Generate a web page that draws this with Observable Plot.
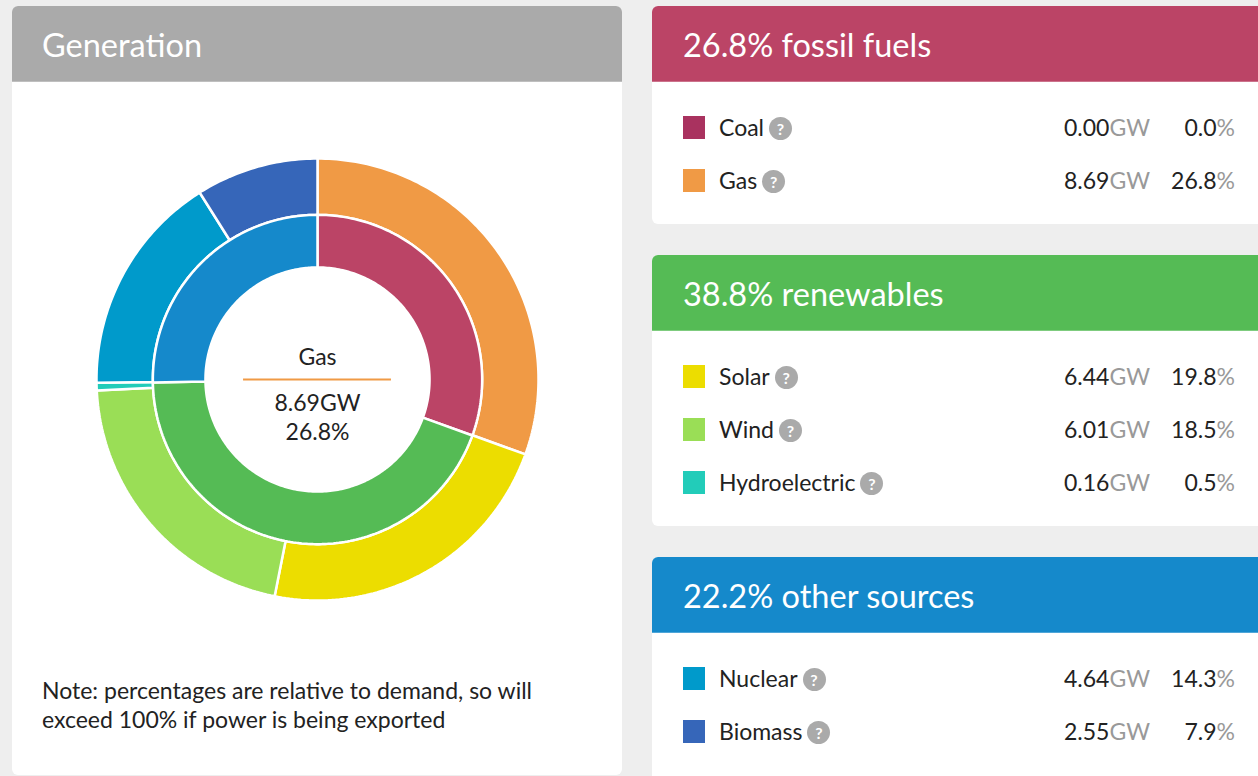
<!DOCTYPE html>
<html>
<head>
<meta charset="utf-8">
<script src="https://cdn.jsdelivr.net/npm/d3@7"></script>
<script src="https://cdn.jsdelivr.net/npm/@observablehq/plot@0.6"></script>
<style>
  html, body { margin:0; padding:0; }
  body { background:#eeeeee; width:1258px; height:776px; overflow:hidden; position:relative; font-family: Lato, "Open Sans", sans-serif; color:#222; }
  .panel { position:absolute; background:#fff; border-radius:6px; overflow:hidden; }
  .head { height:76px; line-height:78px; color:#fff; font-size:32.5px; padding-left:31px; box-sizing:border-box; border-bottom:1px solid rgba(255,255,255,0.25); }
  #gen { left:12px; top:6px; width:610px; height:769px; }
  #gen .head { background:#aaaaaa; padding-left:30px; }
  #chart { position:absolute; left:82px; top:150px; }
  #note { position:absolute; left:30px; top:670px; font-size:23px; line-height:29px; color:#222; width:560px; }
  .group { left:652px; width:620px; }
  .rows { padding-top:19px; }
  .row { position:relative; height:53px; font-size:23px; }
  .sw { position:absolute; left:31px; top:15px; width:22px; height:23px; }
  .lab { position:absolute; left:67px; top:0; line-height:53px; white-space:nowrap; }
  .q { display:inline-block; width:23px; height:23px; border-radius:50%; background:#aaaaaa; color:#fff; font-size:16px; font-weight:bold; line-height:23px; text-align:center; vertical-align:middle; margin-left:5px; position:relative; top:-2px; }
  .gw { position:absolute; right:122px; top:0; line-height:53px; }
  .pc { position:absolute; right:37px; top:0; line-height:53px; }
  .unit { color:#999; }
</style>
</head>
<body>
<div id="gen" class="panel">
  <div class="head">Generation</div>
  <div id="chart"></div>
  <div id="note">Note: percentages are relative to demand, so will<br>exceed 100% if power is being exported</div>
</div>
<div id="groups"></div>
<script>
// ---- data ----
const sources = ["Coal", "Gas", "Solar", "Wind", "Hydroelectric", "Nuclear", "Biomass"];
const sourceGW = [0.00, 8.69, 6.44, 6.01, 0.16, 4.64, 2.55];
const sourcePct = [0.0, 26.8, 19.8, 18.5, 0.5, 14.3, 7.9];
const sourceGroup = ["fossil fuels", "fossil fuels", "renewables", "renewables", "renewables", "other sources", "other sources"];
const groups = ["fossil fuels", "renewables", "other sources"];
const groupPct = [26.8, 38.8, 22.2];
const selected = "Gas";

// ---- palette ----
const sourceColors = ["#a9325f", "#f09a45", "#ecdd00", "#9ade56", "#22ccb9", "#009acb", "#3666b9"];
const groupColors = ["#bb4466", "#55bb55", "#1589cb"];

// ---- donut geometry (radii in data units) ----
const rOuter = 1.0, rMid = 0.745, rHole = 0.507;
const TAU = 2 * Math.PI;
function ring(names, values, r0, r1) {
  const total = d3.sum(values);
  let acc = 0;
  const pts = [];
  names.forEach((n, i) => {
    const a0 = acc / total * TAU;
    acc += values[i];
    const a1 = acc / total * TAU;
    if (values[i] <= 0) return;
    const steps = Math.max(2, Math.ceil((a1 - a0) / (TAU / 360)));
    for (let k = 0; k <= steps; k++) {
      const a = a0 + (a1 - a0) * k / steps;
      pts.push({key: n, x: r1 * Math.sin(a), y: r1 * Math.cos(a)});
    }
    for (let k = steps; k >= 0; k--) {
      const a = a0 + (a1 - a0) * k / steps;
      pts.push({key: n, x: r0 * Math.sin(a), y: r0 * Math.cos(a)});
    }
  });
  return pts;
}
const outerPts = ring(sources, sourceGW, rMid, rOuter);
const innerPts = ring(groups, groupPct, rHole, rMid);

const si = sources.indexOf(selected);
const centerRow = [{
  name: selected,
  gw: sourceGW[si].toFixed(2) + "GW",
  pct: sourcePct[si].toFixed(1) + "%"
}];
const sep = 0.66 * rHole;

const chart = Plot.plot({
  width: 446,
  height: 446,
  margin: 2,
  x: {domain: [-1, 1], axis: null},
  y: {domain: [-1, 1], axis: null},
  color: {domain: [...sources, ...groups], range: [...sourceColors, ...groupColors]},
  style: {fontFamily: "Lato, sans-serif", background: "transparent"},
  marks: [
    Plot.line(outerPts, {x: "x", y: "y", z: "key", fill: "key", stroke: "white", strokeWidth: 2.5, curve: "linear-closed", strokeLinejoin: "miter"}),
    Plot.line(innerPts, {x: "x", y: "y", z: "key", fill: "key", stroke: "white", strokeWidth: 2.5, curve: "linear-closed", strokeLinejoin: "miter"}),
    Plot.ruleY([0], {x1: -sep, x2: sep, stroke: sourceColors[si], strokeWidth: 2}),
    Plot.text(centerRow, {x: 0, y: 0, text: "name", dy: -22, fontSize: 23, fill: "#222"}),
    Plot.text(centerRow, {x: 0, y: 0, text: "gw", dy: 24, fontSize: 23, fill: "#222"}),
    Plot.text(centerRow, {x: 0, y: 0, text: "pct", dy: 53, fontSize: 23, fill: "#222"})
  ]
});
document.getElementById("chart").appendChild(chart);

// ---- group tables ----
const tops = [6, 255, 557];
const heights = [218, 271, 240];
const container = document.getElementById("groups");
groups.forEach((g, gi) => {
  const p = document.createElement("div");
  p.className = "panel group";
  p.style.top = tops[gi] + "px";
  p.style.height = heights[gi] + "px";
  const h = document.createElement("div");
  h.className = "head";
  h.style.background = groupColors[gi];
  h.textContent = groupPct[gi].toFixed(1) + "% " + g;
  p.appendChild(h);
  const rows = document.createElement("div");
  rows.className = "rows";
  sources.forEach((s, i) => {
    if (sourceGroup[i] !== g) return;
    const r = document.createElement("div");
    r.className = "row";
    r.innerHTML =
      `<div class="sw" style="background:${sourceColors[i]}"></div>` +
      `<div class="lab">${s}<span class="q">?</span></div>` +
      `<div class="gw">${sourceGW[i].toFixed(2)}<span class="unit">GW</span></div>` +
      `<div class="pc">${sourcePct[i].toFixed(1)}<span class="unit">%</span></div>`;
    rows.appendChild(r);
  });
  p.appendChild(rows);
  container.appendChild(p);
});
</script>
</body>
</html>
